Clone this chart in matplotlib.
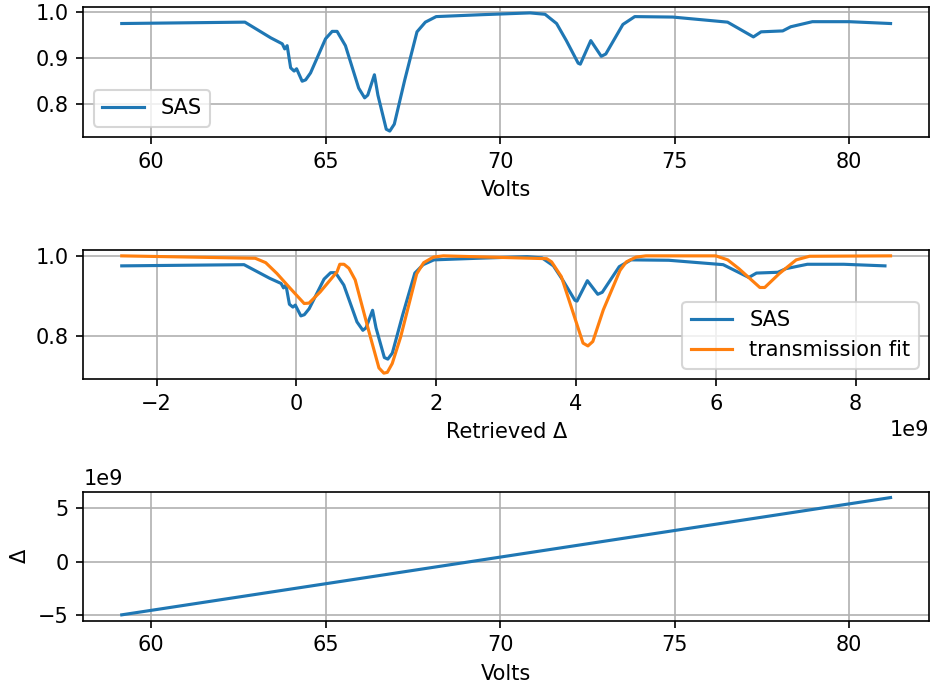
import numpy as np
import matplotlib
matplotlib.use("Agg")
import matplotlib.pyplot as plt

# SAS trace
volts = [59.16, 62.69, 63.43, 63.76, 63.83, 63.90, 64.00, 64.10, 64.17, 64.33,
         64.43, 64.57, 65.00, 65.19, 65.33, 65.57, 65.95, 66.12, 66.21, 66.40,
         66.50, 66.74, 66.84, 66.97, 67.27, 67.62, 67.86, 68.17, 68.48, 69.43,
         70.86, 71.29, 71.62, 71.90, 72.24, 72.30, 72.60, 72.90, 73.03, 73.52,
         73.86, 74.95, 76.52, 77.26, 77.48, 78.10, 78.33, 78.95, 80.00, 81.19]
sas = [0.975, 0.978, 0.944, 0.931, 0.920, 0.927, 0.879, 0.872, 0.877, 0.850,
       0.853, 0.868, 0.942, 0.958, 0.958, 0.927, 0.835, 0.814, 0.820, 0.864,
       0.820, 0.746, 0.742, 0.757, 0.853, 0.957, 0.978, 0.990, 0.991, 0.994,
       0.998, 0.995, 0.975, 0.938, 0.889, 0.887, 0.938, 0.904, 0.909, 0.973,
       0.990, 0.989, 0.978, 0.946, 0.957, 0.959, 0.968, 0.979, 0.979, 0.975]

# volts -> delta calibration (bottom panel)
volts_cal = [59.16, 81.19]
delta_cal = [-4.96e9, 5.96e9]
retrieved_shift = 2.46e9

# transmission fit (middle panel)
fit_delta = [-2.50, -0.59, -0.44, -0.28, -0.09, 0.11, 0.18, 0.34, 0.58, 0.62,
             0.68, 0.75, 0.84, 1.03, 1.18, 1.25, 1.30, 1.37, 1.49, 1.72,
             1.82, 1.96, 2.10, 3.58, 3.65, 3.79, 3.96, 4.10, 4.17, 4.24,
             4.39, 4.63, 4.72, 4.86, 5.00, 6.00, 6.17, 6.33, 6.63, 6.70,
             6.91, 7.15, 7.34, 8.50]
fit_trans = [1.000, 0.994, 0.983, 0.956, 0.919, 0.881, 0.882, 0.910, 0.960, 0.979,
             0.979, 0.969, 0.940, 0.815, 0.720, 0.707, 0.709, 0.731, 0.797, 0.955,
             0.983, 0.997, 1.000, 0.993, 0.985, 0.948, 0.857, 0.782, 0.775, 0.786,
             0.865, 0.964, 0.985, 0.997, 1.000, 1.000, 0.990, 0.968, 0.921, 0.921,
             0.956, 0.990, 0.999, 1.000]


def main():
    v = np.array(volts)
    delta = np.interp(v, volts_cal, delta_cal)
    retrieved = delta + retrieved_shift

    W, H = 931, 687
    fig = plt.figure(figsize=(W / 150, H / 150), dpi=150)

    def rect(top, bottom):
        return [83.3 / W, 1 - bottom / H, (929 - 83.3) / W, (bottom - top) / H]

    ax1 = fig.add_axes(rect(7, 137))
    ax2 = fig.add_axes(rect(250, 379))
    ax3 = fig.add_axes(rect(491.7, 620.7))

    ax1.plot(v, sas, label="SAS")
    ax1.set_xlabel("Volts")
    ax1.legend(loc="lower left")
    ax1.grid()

    ax2.plot(retrieved, sas, label="SAS")
    ax2.plot(np.array(fit_delta) * 1e9, fit_trans, label="transmission fit")
    ax2.set_xlabel("Retrieved Δ")
    ax2.legend(loc="lower right")
    ax2.grid()

    ax3.plot(v, delta)
    ax3.set_xlabel("Volts")
    ax3.set_ylabel("Δ")
    ax3.grid()

    fig.savefig("out.png", dpi=150)


if __name__ == "__main__":
    main()
